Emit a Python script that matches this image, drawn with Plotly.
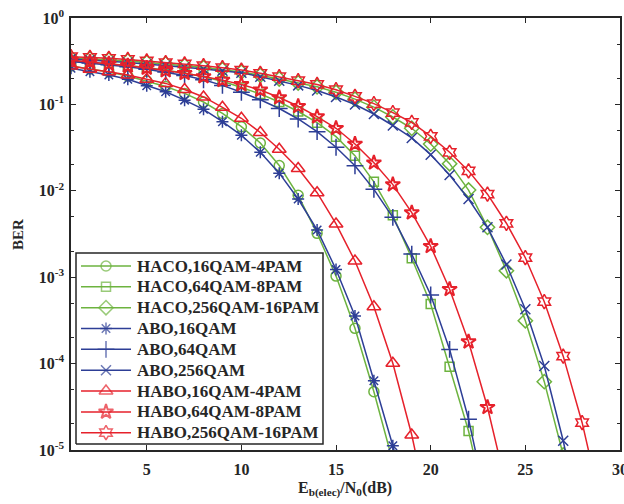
import plotly.graph_objects as go

snr = list(range(1, 30))

haco_16 = [0.278, 0.257, 0.237, 0.213, 0.187, 0.161, 0.134, 0.1066, 0.0785, 0.0552,
           0.0357, 0.0196, 0.00887, 0.00322, 0.00103, 2.56e-4, 4.73e-5, 7.3e-6]
haco_64 = [0.322, 0.310, 0.297, 0.282, 0.267, 0.250, 0.231, 0.209, 0.185, 0.157,
           0.132, 0.1066, 0.0828, 0.0614, 0.0423, 0.0255, 0.0127, 0.00520, 0.00166,
           4.90e-4, 9.20e-5, 1.66e-5, 1.77e-6]
haco_256 = [0.344, 0.337, 0.328, 0.318, 0.305, 0.294, 0.281, 0.267, 0.253, 0.237,
            0.217, 0.197, 0.177, 0.160, 0.138, 0.115, 0.0929, 0.0715, 0.0529, 0.0348,
            0.0206, 0.0102, 0.00378, 0.00119, 3.14e-4, 6.18e-5, 8.75e-6, 1.0e-6]
abo_16 = [0.262, 0.239, 0.219, 0.195, 0.164, 0.140, 0.112, 0.0877, 0.0631, 0.0439,
          0.0279, 0.0160, 0.00804, 0.00352, 0.00123, 3.56e-4, 6.34e-5, 1.12e-5, 1.5e-6]
abo_64 = [0.314, 0.301, 0.287, 0.272, 0.255, 0.237, 0.216, 0.193, 0.166, 0.138,
          0.113, 0.0897, 0.0678, 0.0483, 0.0319, 0.0195, 0.0104, 0.00493, 0.00185,
          6.22e-4, 1.46e-4, 2.27e-5, 2.25e-6]
abo_256 = [0.335, 0.327, 0.316, 0.305, 0.294, 0.281, 0.269, 0.257, 0.245, 0.233,
           0.209, 0.188, 0.166, 0.145, 0.122, 0.0997, 0.0774, 0.0570, 0.0409, 0.0262,
           0.0152, 0.00804, 0.00378, 0.00140, 4.25e-4, 9.38e-5, 1.28e-5, 1.19e-6]
habo_16 = [0.278, 0.255, 0.239, 0.219, 0.195, 0.175, 0.149, 0.122, 0.0926, 0.0691,
           0.0473, 0.0303, 0.0181, 0.00951, 0.00413, 0.00154, 4.56e-4, 1.01e-4,
           1.49e-5, 1.43e-6]
habo_64 = [0.324, 0.310, 0.295, 0.280, 0.264, 0.247, 0.229, 0.210, 0.191, 0.170,
           0.147, 0.120, 0.0951, 0.0721, 0.0529, 0.0348, 0.0211, 0.0118, 0.00558,
           0.00228, 7.24e-4, 1.79e-4, 3.12e-5, 3.73e-6]
habo_256 = [0.356, 0.351, 0.342, 0.331, 0.318, 0.305, 0.294, 0.281, 0.266, 0.250,
            0.229, 0.209, 0.188, 0.170, 0.148, 0.124, 0.102, 0.0802, 0.0618, 0.0427,
            0.0279, 0.0170, 0.00914, 0.00421, 0.00168, 5.20e-4, 1.22e-4, 2.07e-5, 2.31e-6]

names = ["HACO,16QAM-4PAM", "HACO,64QAM-8PAM", "HACO,256QAM-16PAM",
         "ABO,16QAM", "ABO,64QAM", "ABO,256QAM",
         "HABO,16QAM-4PAM", "HABO,64QAM-8PAM", "HABO,256QAM-16PAM"]
series = [haco_16, haco_64, haco_256, abo_16, abo_64, abo_256, habo_16, habo_64, habo_256]

x_ticks = [5, 10, 15, 20, 25, 30]
y_ticks = [1, 1e-1, 1e-2, 1e-3, 1e-4, 1e-5]
y_ticktext = ["10<sup>0</sup>", "10<sup>-1</sup>", "10<sup>-2</sup>",
              "10<sup>-3</sup>", "10<sup>-4</sup>", "10<sup>-5</sup>"]

GREEN = "#6DB33F"
BLUE = "#2D3E96"
RED = "#E6212B"
AX = "#262626"
colors = [GREEN] * 3 + [BLUE] * 3 + [RED] * 3
symbols = ["circle-open", "square-open", "diamond-open",
           "asterisk-open", "cross-thin-open", "x-thin-open",
           "triangle-up-open", "star-open", "hexagram-open"]
sizes = [10, 9, 11, 10, 12, 10, 12, 11, 11]
font_family = "Liberation Serif, Times New Roman, serif"

W, H = 624, 504
L, R, T, B = 71, 4, 18, 54
PW, PH = W - L - R, H - T - B


def px(xp):
    return (xp - L) / PW


def py(yp):
    return (H - B - yp) / PH


fig = go.Figure()
for name, ys, c, s, sz in zip(names, series, colors, symbols, sizes):
    fig.add_trace(go.Scatter(
        x=snr[:len(ys)], y=ys, name=name, mode="lines+markers", showlegend=False,
        line=dict(color=c, width=1.5),
        marker=dict(symbol=s, size=sz, color=c,
                    line=dict(color=c, width=2 if s == "star-open" else 1.5)),
        xaxis="x", yaxis="y",
    ))

# hand-built legend on an overlay axis (0..1 coordinates over the plot area)
bx0, bx1, by0, by1 = px(76), px(323), py(444), py(253)
fig.add_trace(go.Scatter(
    x=[bx0, bx1, bx1, bx0, bx0], y=[by0, by0, by1, by1, by0],
    mode="lines", fill="toself", fillcolor="white",
    line=dict(color=AX, width=1.5), showlegend=False, hoverinfo="skip",
    xaxis="x2", yaxis="y2"))
row0, row_step = 266.0, 20.84
annotations = []
for i, (name, c, s, sz) in enumerate(zip(names, colors, symbols, sizes)):
    yy = py(row0 + i * row_step)
    fig.add_trace(go.Scatter(
        x=[px(81), px(106), px(131)], y=[yy, yy, yy], mode="lines+markers",
        line=dict(color=c, width=1.5),
        marker=dict(symbol=s, size=[0, sz, 0], color=c,
                    line=dict(color=c, width=2 if s == "star-open" else 1.5)),
        showlegend=False, hoverinfo="skip", xaxis="x2", yaxis="y2"))
    annotations.append(dict(
        text=f"<b>{name}</b>", x=px(135), y=yy, xref="paper", yref="paper",
        showarrow=False, xanchor="left", yanchor="middle",
        font=dict(family=font_family, size=17, color=AX)))

annotations.append(dict(
    text="<b>E<sub>b(elec)</sub>/N<sub>0</sub>(dB)</b>", x=px(345), y=py(489),
    xref="paper", yref="paper", showarrow=False, xanchor="center", yanchor="middle",
    font=dict(family=font_family, size=16, color=AX)))
annotations.append(dict(
    text="<b>BER</b>", x=px(18), y=py(235), xref="paper", yref="paper",
    showarrow=False, textangle=-90, xanchor="center", yanchor="middle",
    font=dict(family=font_family, size=15, color=AX)))

fig.update_layout(
    width=W, height=H,
    margin=dict(l=L, r=R, t=T, b=B),
    paper_bgcolor="white", plot_bgcolor="white",
    font=dict(family=font_family, size=16, color=AX),
    showlegend=False,
    xaxis=dict(range=[1, 30], tickvals=x_ticks,
               ticktext=[f"<b>{v}</b>" for v in x_ticks],
               tickfont=dict(size=16), ticklabeloverflow="allow",
               ticks="inside", ticklen=5, tickcolor=AX, showgrid=False,
               zeroline=False, showline=True, linecolor=AX, linewidth=1.5,
               mirror="ticks", automargin=False, ticklabelstandoff=4),
    yaxis=dict(type="log", range=[-5, 0], tickvals=y_ticks,
               ticktext=[f"<b>{t}</b>" for t in y_ticktext],
               tickfont=dict(size=16), ticklabeloverflow="allow",
               ticks="inside", ticklen=5, tickcolor=AX, showgrid=False,
               zeroline=False, showline=True, linecolor=AX, linewidth=1.5,
               mirror="ticks", automargin=False, ticklabelstandoff=2,
               minor=dict(ticks="inside", ticklen=3, tickcolor=AX, showgrid=False)),
    xaxis2=dict(range=[0, 1], overlaying="x", visible=False, anchor="y2",
                fixedrange=True),
    yaxis2=dict(range=[0, 1], overlaying="y", visible=False, anchor="x2",
                fixedrange=True),
    annotations=annotations,
)

fig.write_html("out.html", config={"displayModeBar": False},
               post_script="document.body.style.margin='0';")
